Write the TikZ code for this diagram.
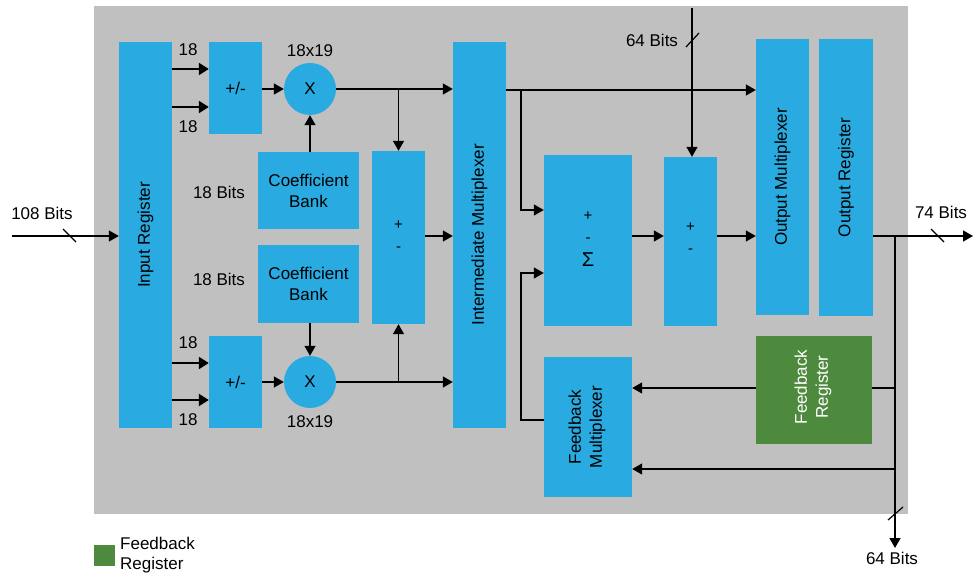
\documentclass[tikz,border=0pt]{standalone}
\usepackage{fontspec}
\setmainfont{Liberation Sans}
\usetikzlibrary{arrows.meta,calc}
\definecolor{blk}{RGB}{41,170,225}
\definecolor{fbg}{RGB}{78,138,62}
\definecolor{bg}{RGB}{192,192,192}
\tikzset{
  box/.style={fill=blk, draw=none, inner sep=0pt, anchor=center},
  txt/.style={font=\fontsize{17}{21}\selectfont, inner sep=0pt, align=center},
  small/.style={font=\fontsize{15}{22}\selectfont, inner sep=0pt, align=center},
  rtxt/.style={txt, rotate=90},
  arr/.style={line width=1.4pt, -{Triangle[length=10pt,width=11pt]}},
  tarr/.style={line width=2.2pt, -{Triangle[length=10pt,width=12pt]}},
  ln/.style={line width=1.4pt},
  slash/.style={line width=1.2pt}
}
\begin{document}
\begin{tikzpicture}[x=1pt,y=-1pt]
\useasboundingbox (0,0) rectangle (973,577);
\fill[bg] (94,6) rectangle (908,514);

% blocks
\node[box, minimum width=53pt, minimum height=386pt] (inreg) at (145.5,235) {};
\node[rtxt] at (inreg) {Input Register};
\node[box, minimum width=53pt, minimum height=92pt] (pm1) at (235.5,88) {};
\node[txt] at (pm1) {+/-};
\node[box, minimum width=53pt, minimum height=92pt] (pm2) at (235.5,382) {};
\node[txt] at (pm2) {+/-};
\node[box, circle, minimum size=52pt] (mul1) at (310,89) {};
\node[txt] at (mul1) {X};
\node[box, circle, minimum size=52pt] (mul2) at (310,382) {};
\node[txt] at (mul2) {X};
\node[box, minimum width=101pt, minimum height=77pt] (cb1) at (308.5,190.5) {};
\node[txt] at (cb1) {Coefficient\\Bank};
\node[box, minimum width=101pt, minimum height=78pt] (cb2) at (308.5,284) {};
\node[txt] at (cb2) {Coefficient\\Bank};
\node[box, minimum width=53pt, minimum height=173pt] (add1) at (398.5,237.5) {};
\node[small] at (398.5,236) {+\\-};
\node[box, minimum width=53pt, minimum height=386pt] (imux) at (479.5,235) {};
\node[rtxt] at (imux) {Intermediate Multiplexer};
\node[box, minimum width=88pt, minimum height=171pt] (sig) at (588,240.5) {};
\node[small] at (588,227) {+\\-};
\node[txt] at (588,260) {\fontsize{20}{21}\selectfont Σ};
\node[box, minimum width=53pt, minimum height=169pt] (add2) at (690.5,241.5) {};
\node[small] at (690.5,238) {+\\-};
\node[box, minimum width=53pt, minimum height=276pt] (omux) at (782.5,177) {};
\node[rtxt] at (omux) {Output Multiplexer};
\node[box, minimum width=54pt, minimum height=277pt] (oreg) at (846,177.5) {};
\node[rtxt] at (oreg) {Output Register};
\node[box, fill=fbg, minimum width=116pt, minimum height=108pt] (fbreg) at (814,390) {};
\node[rtxt, text=white] at (813,387) {Feedback\\Register};
\node[box, minimum width=88pt, minimum height=140pt] (fbmux) at (588,427) {};
\node[rtxt] at (587,427) {Feedback\\Multiplexer};

% labels
\node[txt] at (188,50) {18};
\node[txt] at (188,127) {18};
\node[txt] at (188,343) {18};
\node[txt] at (188,420) {18};
\node[txt] at (310,51) {18x19};
\node[txt] at (310,422) {18x19};
\node[txt] at (219,192) {18 Bits};
\node[txt] at (219,279) {18 Bits};
\node[txt] at (42,213) {108 Bits};
\node[txt] at (652,40) {64 Bits};
\node[txt] at (941,212) {74 Bits};
\node[txt] at (892,558) {64 Bits};

% coordinates
\coordinate (in108) at (12,236);
\coordinate (top64) at (692,8);
\coordinate (out74) at (973,236);
\coordinate (bot64) at (895,548);
\coordinate (brA) at (521,90);
\coordinate (brB) at (895,236);

% connectors
\draw[arr] (in108) -- (inreg.west |- in108);
\draw[tarr] (inreg.east |- 0,69) -- (pm1.west |- 0,69);
\draw[tarr] (inreg.east |- 0,107) -- (pm1.west |- 0,107);
\draw[tarr] (inreg.east |- 0,363) -- (pm2.west |- 0,363);
\draw[tarr] (inreg.east |- 0,400) -- (pm2.west |- 0,400);
\draw[arr] (pm1.east |- mul1) -- (mul1.west);
\draw[arr] (pm2.east |- mul2) -- (mul2.west);
\draw[arr] (cb1.north -| mul1) -- (mul1.south);
\draw[arr] (cb2.south -| mul2) -- (mul2.north);
\draw[arr] (mul1.east) -- (imux.west |- mul1);
\draw[arr] (mul1 -| add1) -- (add1.north);
\draw[arr] (mul2.east) -- (imux.west |- mul2);
\draw[arr] (mul2 -| add1) -- (add1.south);
\draw[arr] (add1.east |- 0,236) -- (imux.west |- 0,236);
\draw[arr] (imux.east |- brA) -- (omux.west |- brA);
\draw[arr] (brA) |- (sig.west |- 0,210);
\draw[arr] (fbmux.west |- 0,420) -| (brA |- 0,273) -- (sig.west |- 0,273);
\draw[arr] (sig.east |- 0,236) -- (add2.west |- 0,236);
\draw[arr] (add2.east |- 0,236) -- (omux.west |- 0,236);
\draw[arr] (top64) -- (add2.north -| top64);
\draw[arr] (oreg.east |- out74) -- (out74);
\draw[arr] (brB) -- (bot64);
\draw[ln] (brB |- 0,388) -- (fbreg.east |- 0,388);
\draw[arr] (fbreg.west |- 0,388) -- (fbmux.east |- 0,388);
\draw[arr] (brB |- 0,469) -- (fbmux.east |- 0,469);

% bus slashes
\draw[slash] (63,229) -- (76,242);
\draw[slash] (686,47) -- (699,33);
\draw[slash] (931,229) -- (944,242);
\draw[slash] (888,520) -- (903,507);

% legend
\fill[fbg] (94,545) rectangle (115,566);
\node[txt, anchor=west, align=left, font=\fontsize{17}{20}\selectfont] (leg) at (120,555) {Feedback\\Register};
\end{tikzpicture}
\end{document}
